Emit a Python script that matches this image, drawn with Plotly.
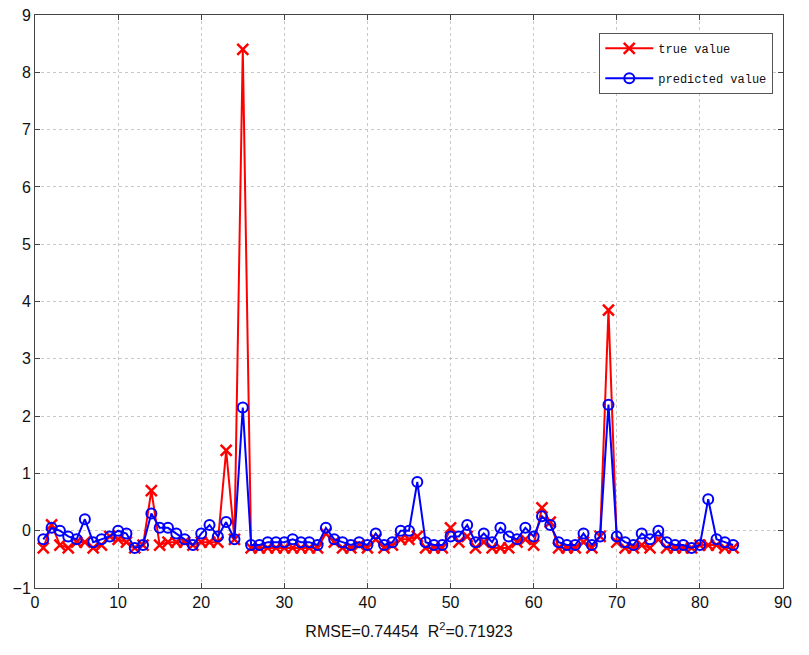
import plotly.graph_objects as go

x_index = list(range(1, 85))

true_value = [
    -0.30, 0.10, -0.25, -0.30, -0.20, -0.20, -0.30, -0.25, -0.10, -0.15,
    -0.20, -0.30, -0.25, 0.70, -0.25, -0.20, -0.20, -0.20, -0.25, -0.20,
    -0.20, -0.20, 1.40, -0.15, 8.40, -0.30, -0.30, -0.30, -0.30, -0.30,
    -0.30, -0.30, -0.30, -0.30, -0.05, -0.20, -0.30, -0.30, -0.25, -0.30,
    -0.15, -0.30, -0.25, -0.15, -0.15, -0.10, -0.30, -0.30, -0.30, 0.05,
    -0.20, -0.10, -0.30, -0.20, -0.30, -0.30, -0.30, -0.20, -0.15, -0.25,
    0.40, 0.15, -0.30, -0.30, -0.30, -0.20, -0.30, -0.10, 3.85, -0.20,
    -0.30, -0.30, -0.25, -0.30, -0.15, -0.30, -0.30, -0.30, -0.30, -0.25,
    -0.25, -0.25, -0.30, -0.30,
]

predicted_value = [
    -0.15, 0.05, 0.00, -0.10, -0.15, 0.20, -0.20, -0.15, -0.10, 0.00,
    -0.05, -0.30, -0.25, 0.30, 0.05, 0.05, -0.05, -0.15, -0.25, -0.05,
    0.10, -0.10, 0.15, -0.15, 2.15, -0.25, -0.25, -0.20, -0.20, -0.20,
    -0.15, -0.20, -0.20, -0.25, 0.05, -0.15, -0.20, -0.25, -0.20, -0.25,
    -0.05, -0.25, -0.20, 0.00, 0.00, 0.85, -0.20, -0.25, -0.25, -0.10,
    -0.10, 0.10, -0.20, -0.05, -0.20, 0.05, -0.10, -0.15, 0.05, -0.10,
    0.25, 0.10, -0.20, -0.25, -0.25, -0.05, -0.25, -0.10, 2.20, -0.10,
    -0.20, -0.25, -0.05, -0.15, 0.00, -0.20, -0.25, -0.25, -0.30, -0.25,
    0.55, -0.15, -0.20, -0.25,
]

x_ticks = [0, 10, 20, 30, 40, 50, 60, 70, 80, 90]
y_ticks = [-1, 0, 1, 2, 3, 4, 5, 6, 7, 8, 9]
x_title = "RMSE=0.74454  R<sup>2</sup>=0.71923"

fig = go.Figure()
fig.add_trace(go.Scatter(
    x=x_index, y=true_value, mode="lines+markers", name="true value",
    legendgroup="t",
    line=dict(color="#ff0000", width=2),
    marker=dict(symbol="x-thin", size=11, color="#ff0000",
                line=dict(color="#ff0000", width=2.5)),
))
fig.add_trace(go.Scatter(
    x=x_index, y=predicted_value, mode="lines+markers", name="predicted value",
    legendgroup="p",
    line=dict(color="#0000ff", width=2),
    marker=dict(symbol="circle-open", size=10, color="#0000ff",
                line=dict(color="#0000ff", width=2)),
))

axis_common = dict(
    showline=True, linecolor="#444444", linewidth=1, mirror="ticks",
    ticks="inside", ticklen=5, tickcolor="#444444",
    showgrid=True, gridcolor="#c8c8c8", griddash="dot", gridwidth=1,
    zeroline=False, automargin=False, ticklabeloverflow="allow",
    tickfont=dict(family="Liberation Sans, Arial", size=16, color="#111111"),
)

fig.update_layout(
    width=809, height=655,
    margin=dict(l=35, r=26, t=15, b=67),
    paper_bgcolor="white", plot_bgcolor="white",
    xaxis=dict(range=[0, 90], tickvals=x_ticks,
               title=dict(text=x_title, standoff=15,
                          font=dict(family="Liberation Sans, Arial", size=16, color="#111111")),
               **axis_common),
    yaxis=dict(range=[-1, 9], tickvals=y_ticks, **axis_common),
    legend=dict(
        x=0.987, y=0.969, xanchor="right", yanchor="top",
        bgcolor="white", bordercolor="#555555", borderwidth=1,
        font=dict(family="Liberation Mono, DejaVu Sans Mono", size=12, color="#111111"),
        itemwidth=48, traceorder="grouped", tracegroupgap=11,
    ),
    showlegend=True,
)

fig.write_html("out.html", config={"displayModeBar": False},
               post_script="document.body.style.margin='0';")
